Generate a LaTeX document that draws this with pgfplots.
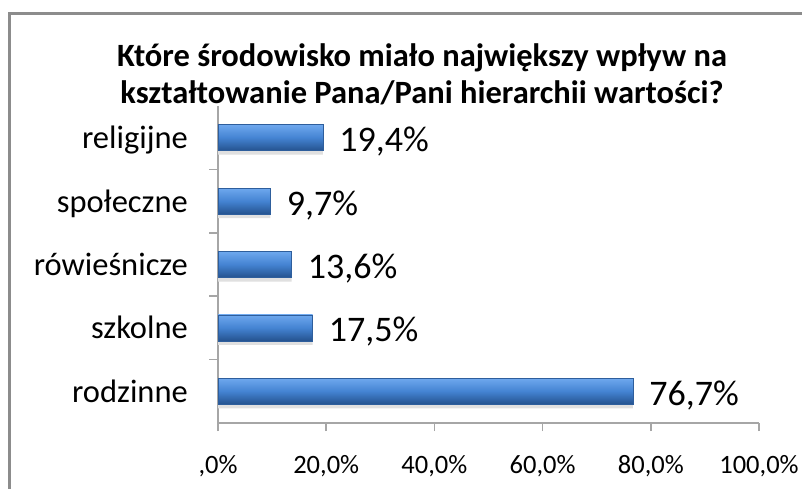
\documentclass[border=0pt]{standalone}
\usepackage{pgfplots}
\pgfplotsset{compat=1.18}
\usepackage{fontspec}
\setmainfont{Carlito}
\definecolor{axgray}{HTML}{A6A6A6}
\definecolor{framegray}{HTML}{8C8C8C}
\definecolor{bartop}{HTML}{6EA8EE}
\definecolor{barmid}{HTML}{4483D2}
\definecolor{barbot}{HTML}{24528E}
\definecolor{bardraw}{HTML}{2E5E9C}
\pgfplotsset{
  mybar/.style={xbar, bar width=26pt, bar shift=0pt, draw=bardraw, line width=0.6pt,
    top color=bartop, bottom color=barbot, middle color=barmid,
    point meta=explicit symbolic, nodes near coords,
    nodes near coords style={font=\fontsize{36}{40}\selectfont, anchor=base west, inner sep=0pt, xshift=16pt, yshift=-14pt, text=black}},
}
\begin{document}
\begin{tikzpicture}[x=1pt,y=1pt]
\useasboundingbox (0,0) rectangle (802,488);
\fill[white] (0,0) rectangle (802,488);
\draw[framegray, line width=3pt] (9.5,-20) rectangle (830,474.5);
\node[font=\bfseries\fontsize{32.5}{37}\selectfont, anchor=base] at (422,421) {Które środowisko miało największy wpływ na};
\node[font=\bfseries\fontsize{32.5}{37}\selectfont, anchor=base] at (422,384) {kształtowanie Pana/Pani hierarchii wartości?};
\begin{axis}[
  at={(218pt,65pt)}, anchor=south west,
  scale only axis, width=541pt, height=317pt,
  xmin=0, xmax=100, ymin=-0.5, ymax=4.5,
  axis x line=bottom, axis y line=left,
  axis line style={-, draw=axgray, line width=1.5pt},
  tick align=outside,
  xtick={0,20,40,60,80,100},
  xticklabels={{,0\%},{20,0\%},{40,0\%},{60,0\%},{80,0\%},{100,0\%}},
  ytick={0,1,2,3,4},
  yticklabels={rodzinne,szkolne,rówieśnicze,społeczne,religijne},
  minor ytick={0.5,1.5,2.5,3.5},
  major tick length=8pt, minor tick length=9pt,
  major x tick style={draw=axgray, line width=1.5pt},
  major y tick style={draw=none},
  minor y tick style={draw=axgray, line width=1.5pt},
  xticklabel style={font=\fontsize{26.5}{30}\selectfont, inner sep=0pt, anchor=north, yshift=-24pt},
  yticklabel style={font=\fontsize{32.5}{36}\selectfont, inner sep=0pt, anchor=base east, xshift=-22pt, yshift=-11pt},
  clip=false,
]
\addplot[xbar, bar width=26pt, bar shift=-4pt, fill=black!12, draw=none, forget plot]
  coordinates {(76.7,0) (17.5,1) (13.6,2) (9.7,3) (19.4,4)};
\addplot[mybar] coordinates {(76.7,0) [76,7\%]};
\addplot[mybar] coordinates {(17.5,1) [17,5\%]};
\addplot[mybar] coordinates {(13.6,2) [13,6\%]};
\addplot[mybar] coordinates {(9.7,3) [9,7\%]};
\addplot[mybar] coordinates {(19.4,4) [19,4\%]};
\end{axis}
\end{tikzpicture}
\end{document}
